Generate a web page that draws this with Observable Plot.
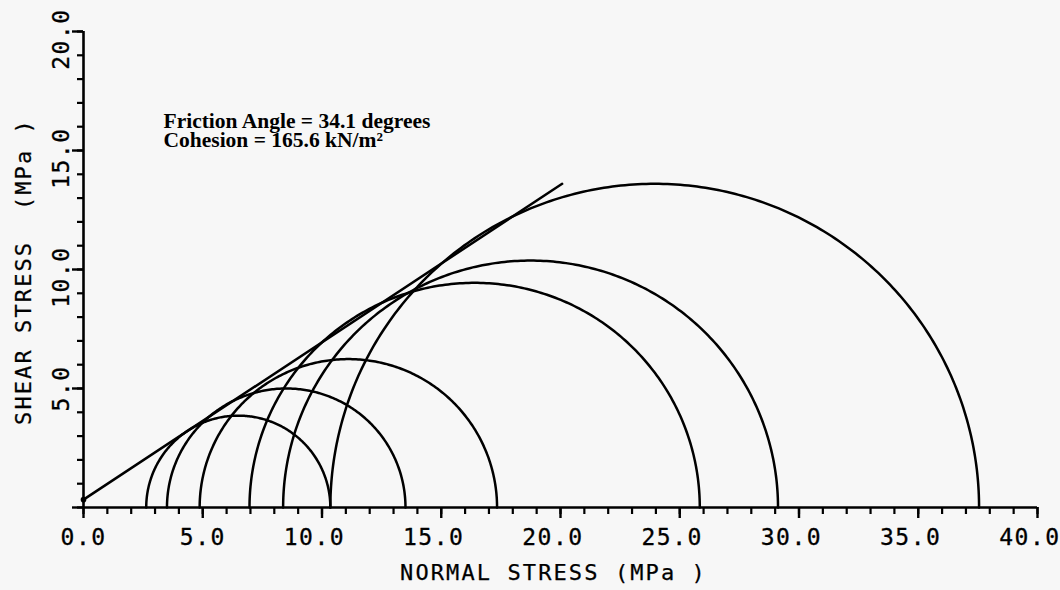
<!DOCTYPE html>
<html>
<head>
<meta charset="utf-8">
<script src="https://cdn.jsdelivr.net/npm/d3@7"></script>
<script src="https://cdn.jsdelivr.net/npm/@observablehq/plot@0.6"></script>
<style>
  html, body { margin: 0; padding: 0; background: #f7f7f7; }
  #chart svg { display: block; }
</style>
</head>
<body>
<div id="chart"></div>
<script>
// Mohr circles: minor and major principal stresses (MPa)
const circleSigma3 = [2.63, 3.50, 4.87, 6.96, 8.37, 10.35];
const circleSigma1 = [10.35, 13.50, 17.34, 25.84, 29.12, 37.55];

// Failure envelope end points (MPa)
const envelopeNormal = [0, 20.07];
const envelopeShear = [0.33, 13.6];

// Axis ticks
const xMajorTicks = [0, 5, 10, 15, 20, 25, 30, 35, 40];
const xTickLabels = ["0.0", "5.0", "10.0", "15.0", "20.0", "25.0", "30.0", "35.0", "40.0"];
const xMinorTicks = d3.range(0, 41, 1);
const yMajorTicks = [0, 5, 10, 15, 20];
const yLabelTicks = [5, 10, 15, 20];
const yTickLabels = ["5.0", "10.0", "15.0", "20.0"];
const yMinorTicks = d3.range(0, 21, 1);

const xTitle = "NORMAL STRESS (MPa )";
const yTitle = "SHEAR STRESS  (MPa )";
const annotationLines = ["Friction Angle = 34.1 degrees", "Cohesion = 165.6 kN/m\u00B2"];

// Build semicircle paths from the circle definitions
const arcs = [];
circleSigma3.forEach((s3, i) => {
  const s1 = circleSigma1[i];
  const c = (s1 + s3) / 2, r = (s1 - s3) / 2;
  for (let k = 0; k <= 240; k++) {
    const t = Math.PI * k / 240;
    arcs.push({id: i, x: c + r * Math.cos(t), y: r * Math.sin(t)});
  }
});
const envelope = envelopeNormal.map((x, i) => ({x, y: envelopeShear[i]}));

const split = (labels, ticks) => labels.map((l, i) => {
  const [a, b] = l.split(".");
  return {v: ticks[i], int: a, frac: "." + b};
});
const xLab = split(xTickLabels, xMajorTicks);
const yLab = split(yTickLabels, yLabelTicks);

const mono = "'DejaVu Sans Mono', monospace";
const fs = 23;
const half = 7.6;
const tickText = {fontFamily: mono, fontSize: fs, stroke: "black", strokeWidth: 0.3, fill: "black", lineAnchor: "middle"};
const titleText = {fontFamily: mono, fontSize: 22, stroke: "black", strokeWidth: 0.25, fill: "black", textAnchor: "middle", lineAnchor: "middle"};

const chart = Plot.plot({
  width: 1060,
  height: 590,
  marginLeft: 83,
  marginRight: 23,
  marginTop: 31,
  marginBottom: 83,
  x: {domain: [0, 40]},
  y: {domain: [0, 20]},
  style: {background: "#f7f7f7", color: "black"},
  marks: [
    Plot.axisX(xMinorTicks, {anchor: "bottom", tickSize: 7, strokeWidth: 2.2, tickFormat: () => "", label: null}),
    Plot.axisX(xMajorTicks, {anchor: "bottom", tickSize: 11, strokeWidth: 2.4, tickFormat: () => "", label: null}),
    Plot.axisY(yMinorTicks, {anchor: "left", tickSize: 6, strokeWidth: 2.2, tickFormat: () => "", label: null}),
    Plot.axisY(yMajorTicks, {anchor: "left", tickSize: 11, strokeWidth: 2.4, tickFormat: () => "", label: null}),
    Plot.ruleY([0], {stroke: "black", strokeWidth: 2.6}),
    Plot.ruleX([0], {stroke: "black", strokeWidth: 2.6}),
    // x tick labels, decimal point centred on the tick
    Plot.text(xLab, {x: "v", text: "int", frameAnchor: "bottom", dy: 30, dx: -half, textAnchor: "end", ...tickText}),
    Plot.text(xLab, {x: "v", text: "frac", frameAnchor: "bottom", dy: 30, dx: -half, textAnchor: "start", ...tickText}),
    // y tick labels (rotated)
    Plot.text(yLab, {y: "v", text: "int", frameAnchor: "left", dx: -22, dy: half, rotate: -90, textAnchor: "end", ...tickText}),
    Plot.text(yLab, {y: "v", text: "frac", frameAnchor: "left", dx: -22, dy: half, rotate: -90, textAnchor: "start", ...tickText}),
    // axis titles
    Plot.text([xTitle], {frameAnchor: "bottom", dy: 65, dx: -7, ...titleText}),
    Plot.text([yTitle], {frameAnchor: "left", dx: -60, dy: 2, rotate: -90, ...titleText}),
    // annotation
    Plot.text([annotationLines.join("\n")], {frameAnchor: "top-left", dx: 80, dy: 83, textAnchor: "start", lineAnchor: "top", lineHeight: 0.88, fontFamily: "'Liberation Serif', 'Times New Roman', serif", fontWeight: "bold", fontSize: 21.5, fill: "black"}),
    // Mohr circles
    Plot.line(arcs, {x: "x", y: "y", z: "id", stroke: "black", strokeWidth: 2.5}),
    // failure envelope
    Plot.line(envelope, {x: "x", y: "y", stroke: "black", strokeWidth: 2.5}),
    Plot.dot(envelope.slice(0, 1), {x: "x", y: "y", r: 2.8, fill: "black"})
  ]
});
// plotter-style letter spacing for the monospaced texts
d3.select(chart).selectAll("g[font-family*='DejaVu Sans Mono']").each(function() {
  const size = +this.getAttribute("font-size");
  this.style.letterSpacing = size === 22 ? "2.1px" : "1.5px";
});
document.getElementById("chart").appendChild(chart);
</script>
</body>
</html>
